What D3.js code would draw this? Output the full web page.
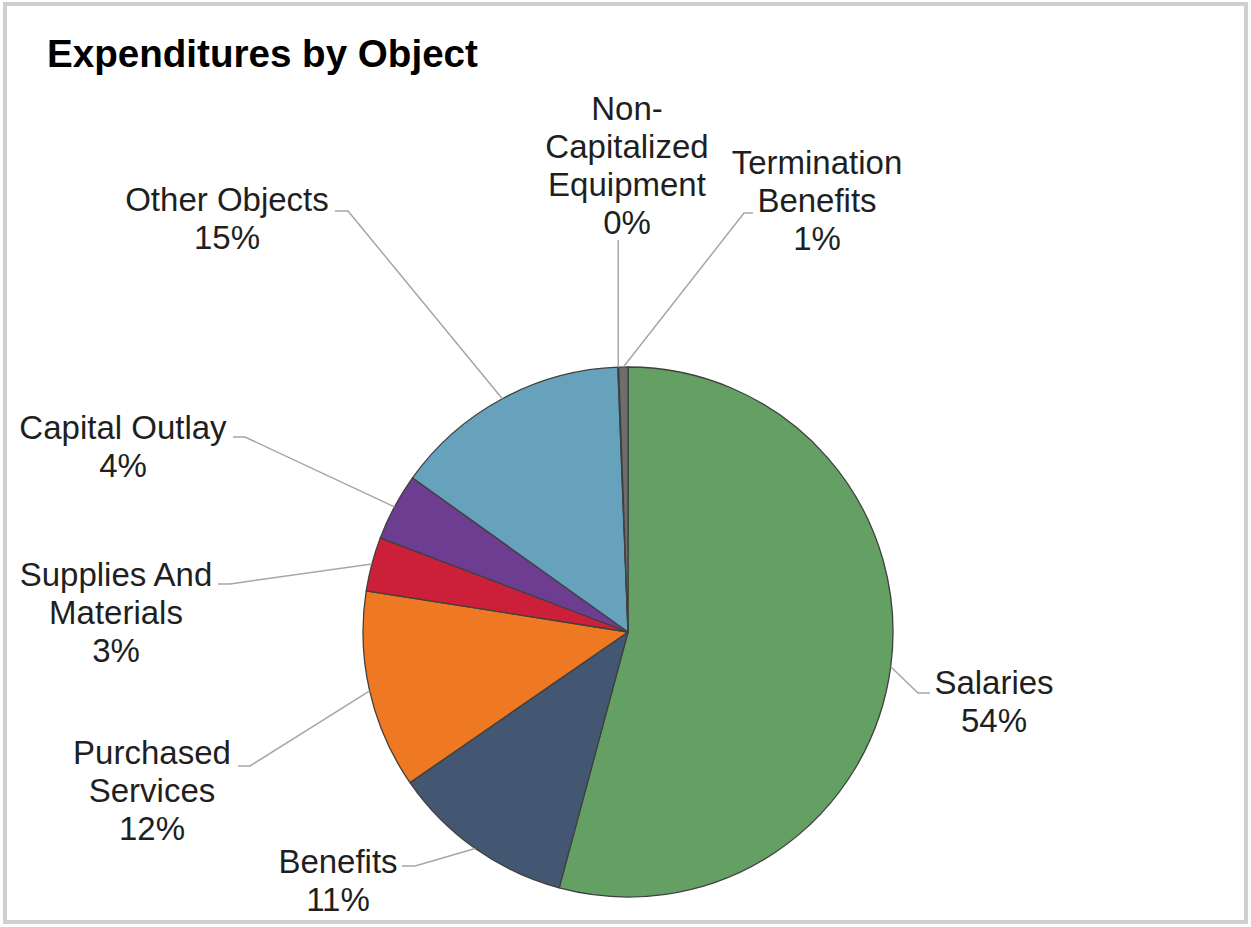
<!DOCTYPE html>
<html>
<head>
<meta charset="utf-8">
<script src="https://cdn.jsdelivr.net/npm/d3@7/dist/d3.min.js"></script>
<style>
  html, body { margin: 0; padding: 0; background: #ffffff; }
  svg { display: block; }
  text { font-family: "Liberation Sans", Arial, sans-serif; fill: #1f1f1f; }
</style>
</head>
<body>
<svg id="chart" width="1251" height="927"></svg>
<script>
// ---- data ----
const categories = ["Salaries", "Benefits", "Purchased Services", "Supplies And Materials",
                    "Capital Outlay", "Other Objects", "Non-Capitalized Equipment", "Termination Benefits"];
const values = [54.18, 11.2, 12.1, 3.3, 4.1, 14.51, 0.05, 0.56];
const colors = ["#64a064", "#435672", "#ef7822", "#cc1f3a", "#6c3d91", "#67a2bd", "#595959", "#6e6e6e"];

// ---- layout (label placement) ----
const labelLayout = {
  "Salaries":                  { cx: 994, cy: 682, lines: ["Salaries"],                         elbow: [[918, 693], [930, 693]] },
  "Benefits":                  { cx: 338, cy: 861, lines: ["Benefits"],                         elbow: [[415, 866], [402, 866]] },
  "Purchased Services":        { cx: 152, cy: 752, lines: ["Purchased", "Services"],            elbow: [[250, 766], [238, 766]] },
  "Supplies And Materials":    { cx: 116, cy: 574, lines: ["Supplies And", "Materials"],        elbow: [[230, 584], [218, 584]] },
  "Capital Outlay":            { cx: 123, cy: 427, lines: ["Capital Outlay"],                   elbow: [[245, 437], [233, 437]] },
  "Other Objects":             { cx: 227, cy: 199, lines: ["Other Objects"],                    elbow: [[348, 211], [335, 211]] },
  "Non-Capitalized Equipment": { cx: 627, cy: 108, lines: ["Non-", "Capitalized", "Equipment"], elbow: "vertical", top: 240 },
  "Termination Benefits":      { cx: 817, cy: 162, lines: ["Termination", "Benefits"],          elbow: [[744, 213], [753, 213]] }
};

const W = 1251, H = 927;
const cx = 628, cy = 632, R = 265;
const fontSize = 33, lineH = 38;

const svg = d3.select("#chart");

// outer frame
svg.append("rect")
  .attr("x", 5).attr("y", 4).attr("width", W - 10).attr("height", H - 9)
  .attr("fill", "#ffffff").attr("stroke", "#cfcfcf").attr("stroke-width", 4);

// title
svg.append("text")
  .attr("x", 47).attr("y", 67)
  .attr("font-size", 38.6).attr("font-weight", "bold").style("fill", "#000")
  .text("Expenditures by Object");

const data = categories.map((c, i) => ({ name: c, value: values[i], color: colors[i] }));
const total = d3.sum(values);
const pctFmt = d3.format(".0%");

const pie = d3.pie().value(d => d.value).sort(null).startAngle(0).endAngle(2 * Math.PI);
const arcs = pie(data);
const arc = d3.arc().innerRadius(0).outerRadius(R);

const g = svg.append("g").attr("transform", `translate(${cx},${cy})`);

g.selectAll("path.slice")
  .data(arcs)
  .enter().append("path")
  .attr("class", "slice")
  .attr("d", arc)
  .attr("fill", d => d.data.color)
  .attr("stroke", "#404040")
  .attr("stroke-width", 1.3)
  .attr("stroke-linejoin", "round");

// leader lines
const lineGen = d3.line();
arcs.forEach(a => {
  const L = labelLayout[a.data.name];
  const mid = (a.startAngle + a.endAngle) / 2;
  const sx = cx + R * Math.sin(mid), sy = cy - R * Math.cos(mid);
  let pts;
  if (L.elbow === "vertical") {
    pts = [[sx, sy], [sx, L.top]];
  } else {
    pts = [[sx, sy]].concat(L.elbow);
  }
  svg.append("path")
    .attr("d", lineGen(pts))
    .attr("fill", "none")
    .attr("stroke", "#a6a6a6")
    .attr("stroke-width", 1.5);
});

// labels
arcs.forEach(a => {
  const L = labelLayout[a.data.name];
  const lines = L.lines.concat([pctFmt(a.data.value / total)]);
  const t = svg.append("text")
    .attr("text-anchor", "middle")
    .attr("font-size", fontSize);
  lines.forEach((ln, i) => {
    t.append("tspan")
      .attr("x", L.cx)
      .attr("y", L.cy + 11.5 + i * lineH)
      .text(ln);
  });
});
</script>
</body>
</html>
